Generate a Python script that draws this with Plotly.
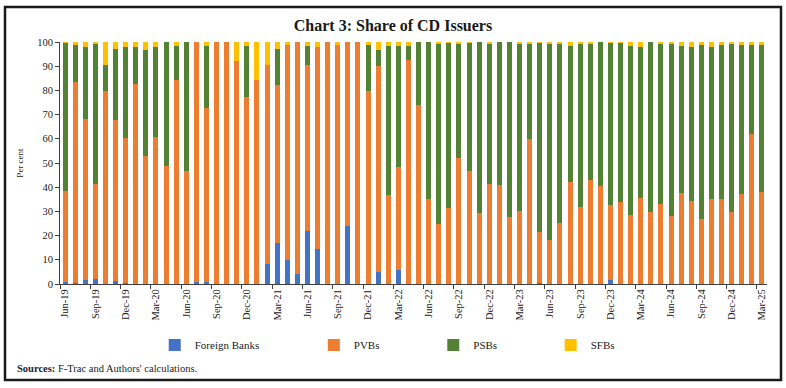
import plotly.graph_objects as go

months = ["Jun-19","Jul-19","Aug-19","Sep-19","Oct-19","Nov-19","Dec-19","Jan-20","Feb-20","Mar-20",
          "Apr-20","May-20","Jun-20","Jul-20","Aug-20","Sep-20","Oct-20","Nov-20","Dec-20","Jan-21",
          "Feb-21","Mar-21","Apr-21","May-21","Jun-21","Jul-21","Aug-21","Sep-21","Oct-21","Nov-21",
          "Dec-21","Jan-22","Feb-22","Mar-22","Apr-22","May-22","Jun-22","Jul-22","Aug-22","Sep-22",
          "Oct-22","Nov-22","Dec-22","Jan-23","Feb-23","Mar-23","Apr-23","May-23","Jun-23","Jul-23",
          "Aug-23","Sep-23","Oct-23","Nov-23","Dec-23","Jan-24","Feb-24","Mar-24","Apr-24","May-24",
          "Jun-24","Jul-24","Aug-24","Sep-24","Oct-24","Nov-24","Dec-24","Jan-25","Feb-25","Mar-25"]

foreign_banks = [0.7,0.5,1.5,2.2,0,1.1,0.5,0,0,0,
                 0,0,0,1.0,1.0,0,0,0,0,0,
                 8.3,16.8,10.1,4.1,22.0,14.5,0,0,24.1,0,
                 0,5.1,0,5.8,0,0,0,0,0,0,
                 0,0,0,0,0,0,0,0.3,0,0,
                 0,0,0,0,1.8,0,0,0,0,0,
                 0,0,0,0,0,0,0,0,0,0]

pvbs = [37.6,82.8,66.7,39.3,79.9,66.8,60.0,82.6,52.8,60.7,
        48.9,84.2,46.6,99.0,71.7,100,100,92.3,77.1,84.4,
        82.3,65.6,88.5,95.9,68.6,83.6,100,98.6,75.9,100,
        79.9,85.1,36.9,42.5,92.7,74.1,35.0,24.9,31.5,52.1,
        46.6,29.3,41.5,41.0,27.8,30.3,60.0,21.0,18.3,25.2,
        42.3,32.0,43.1,40.4,31.0,33.9,28.5,35.5,29.6,33.2,
        28.2,37.5,34.2,27.0,35.1,35.3,29.9,37.1,62.1,38.0]

psbs = [61.3,15.6,29.9,57.7,10.5,29.3,37.3,15.5,44.0,37.1,
        51.1,14.1,53.4,0,25.8,0,0,0,21.1,0,
        0,14.8,0,0,7.6,0,0,0,0,0,
        19.0,6.4,61.6,50.2,5.5,25.9,65.0,74.5,68.2,47.3,
        53.1,70.7,57.7,59.0,72.2,69.1,39.4,78.4,80.9,74.0,
        56.2,67.3,56.1,59.6,67.1,66.0,70.0,62.3,70.4,66.2,
        71.1,61.0,63.6,71.9,62.7,63.3,69.3,61.8,36.8,60.6]

sfbs = [0.4,1.1,1.9,0.8,9.6,2.8,2.2,1.9,3.2,2.2,
        0,1.7,0,0,1.5,0,0,7.7,1.8,15.6,
        9.4,2.8,1.4,0,1.8,1.9,0,1.4,0,0,
        1.1,3.4,1.5,1.5,1.8,0,0,0.6,0.3,0.6,
        0.3,0,0.8,0,0,0.6,0.6,0.3,0.8,0.8,
        1.5,0.7,0.8,0,0.1,0.1,1.5,2.2,0,0.6,
        0.7,1.5,2.2,1.1,2.2,1.4,0.8,1.1,1.1,1.4]

series = [("Foreign Banks", foreign_banks, "#4472C4"),
          ("PVBs", pvbs, "#ED7D31"),
          ("PSBs", psbs, "#548235"),
          ("SFBs", sfbs, "#FFC000")]

FONT = "Liberation Serif"
legend_x = [0.134, 0.359, 0.528, 0.694]

fig = go.Figure()
for i, (name, vals, col) in enumerate(series):
    lg = "legend" if i == 0 else f"legend{i+1}"
    fig.add_trace(go.Bar(x=months, y=vals, name=name, marker_color=col,
                         marker_line_width=0, legend=lg, showlegend=True))

layout_legends = {}
for i, lx in enumerate(legend_x):
    key = "legend" if i == 0 else f"legend{i+1}"
    layout_legends[key] = dict(x=lx, y=(284-345)/242, xanchor="left", yanchor="middle",
                               orientation="h", bgcolor="rgba(0,0,0,0)",
                               font=dict(family=FONT, size=11, color="#222"),
                               itemwidth=30)

fig.update_layout(
    width=786, height=388,
    barmode="stack", bargap=0.5,
    paper_bgcolor="white", plot_bgcolor="white",
    margin=dict(l=60, r=19, t=42, b=104, autoexpand=False),
    showlegend=True,
    title=dict(text="<b>Chart 3: Share of CD Issuers</b>", x=0.5, xanchor="center",
               y=1 - 25/388, yanchor="middle",
               font=dict(family=FONT, size=16, color="#1a1a1a")),
    font=dict(family=FONT, color="#222"),
    **layout_legends,
)

fig.update_xaxes(type="category", tickmode="linear", tick0=0, dtick=3,
                 tickson="boundaries", ticks="outside", ticklen=4,
                 tickcolor="#404040", tickangle=-90, automargin=False,
                 tickfont=dict(family=FONT, size=10.5, color="#222"),
                 showline=True, linecolor="#404040", linewidth=1,
                 showgrid=False, zeroline=False)
fig.update_yaxes(range=[0, 100], dtick=10, ticks="outside", ticklen=4,
                 tickcolor="#404040", showline=True, linecolor="#404040",
                 linewidth=1, showgrid=False, zeroline=False, automargin=False,
                 tickfont=dict(family=FONT, size=10.5, color="#222"),
                 title=dict(text="Per cent", standoff=12,
                            font=dict(family=FONT, size=9, color="#222")))

# outer frame
fig.add_shape(type="rect", xref="paper", yref="paper",
              x0=(5-60)/707, x1=(781-60)/707, y0=(284-380)/242, y1=(284-7)/242,
              line=dict(color="#1a1a1a", width=2.5), fillcolor="rgba(0,0,0,0)",
              layer="above")

fig.add_annotation(text="<b>Sources:</b> F-Trac and Authors' calculations.",
                   xref="paper", yref="paper", x=(15-60)/707, y=(284-368)/242,
                   xanchor="left", yanchor="middle", showarrow=False,
                   font=dict(family=FONT, size=10.5, color="#222"))

fig.write_html("out.html", config={"displayModeBar": False},
               post_script="document.body.style.margin='0';document.body.style.padding='0';")
